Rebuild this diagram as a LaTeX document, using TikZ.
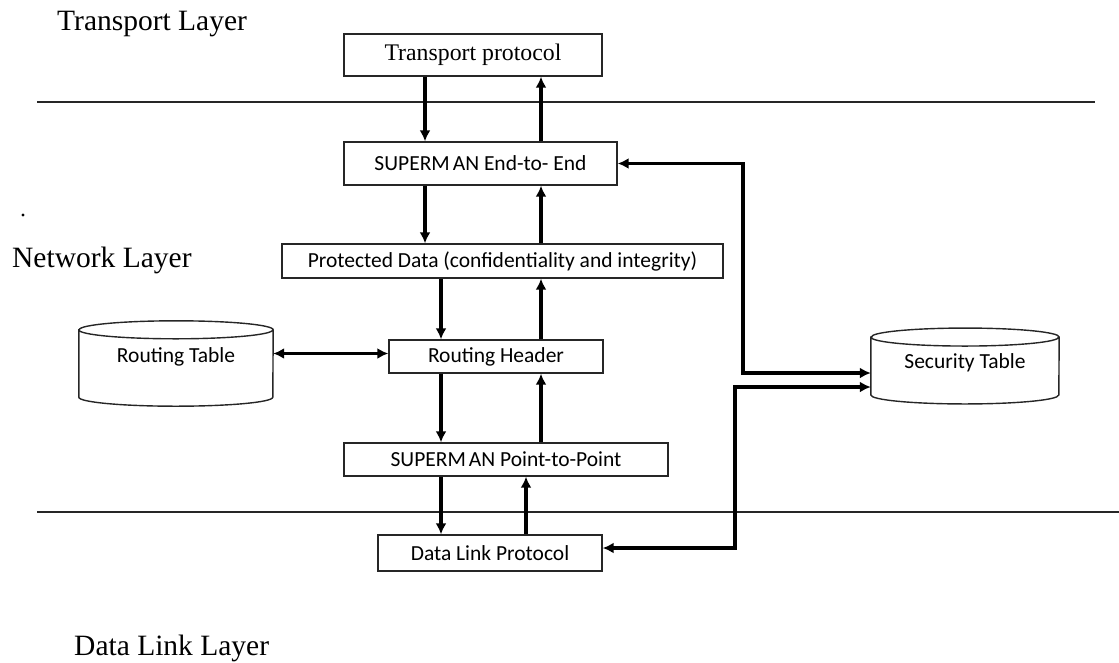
\documentclass[tikz,border=0pt]{standalone}
\usepackage{fontspec}
\setmainfont{Liberation Serif}
\newfontfamily\boxfont{Carlito}
\usepackage{tikz}
\usetikzlibrary{arrows.meta}
\usetikzlibrary{calc}

\begin{document}
\begin{tikzpicture}[x=1pt,y=-1pt,
  layerbox/.style={draw=black!85,line width=1.4pt,inner sep=0pt,font=\boxfont\fontsize{21.5}{25}\selectfont},
  tablebody/.style={inner sep=0pt},
  tabletext/.style={inner sep=0pt,font=\boxfont\fontsize{21.5}{25}\selectfont},
  layername/.style={anchor=west,inner sep=0pt,font=\fontsize{29.5}{34}\selectfont},
  flow/.style={black,line width=3.2pt,>={Latex[length=11pt,width=11pt]}}]
\useasboundingbox (0,0) rectangle (1119,662);
%% layer borders
\draw[black!85,line width=1.4pt] (37,102) -- (1095,102);
\draw[black!85,line width=1.4pt] (37,512) -- (1119,512);
\node[layername] (tl) at (57,24) {Transport Layer};
\node[layername] (nl) at (12,260) {Network Layer};
\node[layername] (dll) at (74,648) {Data Link Layer};
\fill (23,215) circle (1.6pt);

%% stack
\node[layerbox,minimum width=258pt,minimum height=42pt,font=\fontsize{23.8}{28}\selectfont] (tp) at (473,55) {Transport protocol};
\node[layerbox,minimum width=273pt,minimum height=43pt] (e2e) at (480.5,163.5) {SUPERM\kern3pt AN End-to- End};
\node[layerbox,minimum width=441pt,minimum height=34pt] (pd) at (502.5,261) {Protected Data (confidentiality and integrity)};
\node[layerbox,minimum width=214pt,minimum height=33pt] (rh) at (496,356.5) {Routing Header};
\node[layerbox,minimum width=324pt,minimum height=33pt] (ptp) at (506,459.5) {SUPERM\kern3pt AN Point-to-Point};
\node[layerbox,minimum width=224pt,minimum height=36pt] (dl) at (490,553) {Data Link Protocol};

%% tables
\node[tablebody,minimum width=194pt,minimum height=67pt] (rt) at (176,363.5) {};
\node[tabletext] (rtname) at ([yshift=6.5pt]rt.center) {Routing Table};
\draw[black!85,line width=1.4pt] (rt.north west) -- (rt.south west) arc[start angle=180,end angle=360,x radius=97pt,y radius=9pt]
  -- (rt.north east) arc[start angle=0,end angle=180,x radius=97pt,y radius=9pt] -- cycle
  (rt.north west) arc[start angle=180,end angle=360,x radius=97pt,y radius=9pt];
\node[tablebody,minimum width=188pt,minimum height=57.5pt] (st) at (965,366) {};
\node[tabletext] (stname) at ([yshift=3pt]st.center) {Security Table};
\draw[black!85,line width=1.4pt] (st.north west) -- (st.south west) arc[start angle=180,end angle=360,x radius=94pt,y radius=9pt]
  -- (st.north east) arc[start angle=0,end angle=180,x radius=94pt,y radius=9pt] -- cycle
  (st.north west) arc[start angle=180,end angle=360,x radius=94pt,y radius=9pt];

%% data flow
\coordinate (dA) at (425,0);
\coordinate (dB) at (441,0);
\coordinate (uA) at (541,0);
\coordinate (uC) at (526,0);
\foreach \a/\b/\d/\u in {tp/e2e/dA/uA, e2e/pd/dA/uA, pd/rh/dB/uA, rh/ptp/dB/uA, ptp/dl/dB/uC}{
  \draw[flow,->] (\a.south -| \d) -- (\b.north -| \d);
  \draw[flow,->] (\b.north -| \u) -- (\a.south -| \u);
}
\draw[flow,<->] ([yshift=3pt]rh.west) -- ([yshift=3pt]rh.west -| rt.east);
\coordinate (ee) at (743,373);
\coordinate (dd) at (735,387);
\draw[flow,<->] (e2e.east) -| (ee) -- (ee -| st.west);
\draw[flow,<->] ([yshift=5pt]dl.east) -| (dd) -- (dd -| st.west);
\end{tikzpicture}
\end{document}
